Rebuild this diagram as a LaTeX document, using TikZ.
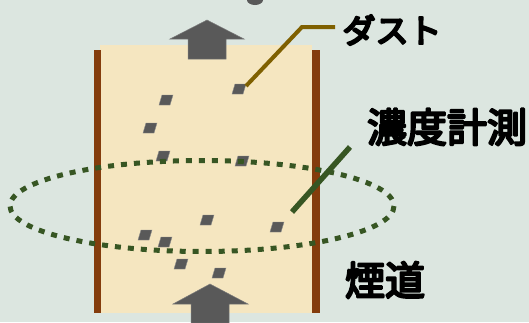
\documentclass[tikz,border=0pt]{standalone}
\usepackage{fontspec}
\newfontfamily\jp{Noto Sans CJK JP}
\newcommand{\heavy}[1]{\special{pdf:literal direct 2 Tr 2.2 w 1 j}#1\special{pdf:literal direct 0 Tr}}
\definecolor{bg}{HTML}{DCE6E0}
\definecolor{flue}{HTML}{F5E6C0}
\definecolor{wall}{HTML}{843C0C}
\definecolor{dust}{HTML}{595959}
\definecolor{meas}{HTML}{375623}
\definecolor{lead}{HTML}{7F6000}
\tikzset{
  particle/.style={fill=dust, draw=dust!70!white, line width=0.4pt},
  flowarrow/.style={fill=dust, draw=dust!80!white, line width=0.5pt},
  label/.style={inner sep=0pt, text=black},
  kanjilabel/.style={label, font=\jp\fontsize{40}{40}\selectfont},
  kanalabel/.style={label, font=\jp\fontsize{33}{33}\selectfont},
}
\newcommand{\dustp}[2]{\path[particle] (#1-7,#2+5) -- (#1+4,#2+5) -- (#1+7,#2-5) -- (#1-4,#2-5) -- cycle;}
\begin{document}
\begin{tikzpicture}[x=1pt,y=-1pt]
\useasboundingbox (0,0) rectangle (529,322);
\fill[bg] (0,0) rectangle (529,322);
% top partial blob
\begin{scope}
\clip (0,0) rectangle (529,322);
\fill[dust] (255,0) ellipse (8 and 5);
\end{scope}
% flue
\fill[flue] (100,45) rectangle (312,313);
\fill[wall] (94,50) rectangle (101,313);
\fill[wall] (312,50) rectangle (320,313);
% arrows
\path[flowarrow] (207,20) -- (244,39) -- (226,39) -- (226,59) -- (188,59) -- (188,39) -- (170,39) -- cycle;
\path[flowarrow] (210,284) -- (248,304) -- (229,304) -- (229,323) -- (191,323) -- (191,304) -- (173,304) -- cycle;
% dust particles
\dustp{166}{100}
\dustp{239}{89}
\dustp{150}{128}
\dustp{163}{156}
\dustp{242}{161}
\dustp{207}{220}
\dustp{277}{227}
\dustp{145}{235}
\dustp{165}{242}
\dustp{181}{264}
\dustp{219}{273}
% leader
\coordinate (dp) at (246,86);
\coordinate (bend) at (302,27);
\coordinate (lend) at (335,27);
\draw[lead, line width=4pt] (dp) -- (bend) -- (lend);
% measurement ellipse
\draw[meas, line width=5pt, dash pattern=on 6pt off 7pt] (202,206) ellipse (192 and 45.5);
\coordinate (m1) at (292,212);
\coordinate (m2) at (350,147);
\draw[meas, line width=5.5pt] (m1) -- (m2);
% labels
\node[kanalabel] (dust) at (392,30) {\heavy{ダスト}};
\node[kanjilabel] (conc) at (447,127) {\heavy{濃度計測}};
\node[kanjilabel] (duct) at (385,280) {\heavy{煙道}};
\end{tikzpicture}
\end{document}
